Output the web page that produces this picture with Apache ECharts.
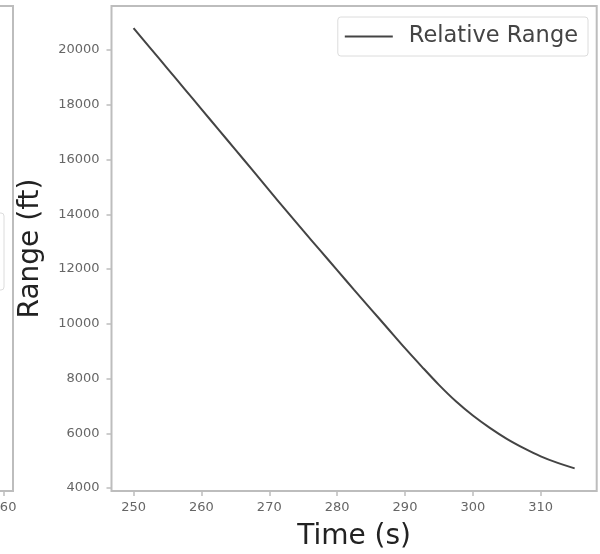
<!DOCTYPE html>
<html>
<head>
<meta charset="utf-8">
<script src="https://cdn.jsdelivr.net/npm/echarts@6/dist/echarts.min.js"></script>
<style>html,body{margin:0;padding:0;background:#fff}#c{width:600px;height:554px}</style>
</head>
<body>
<div id="c"></div>
<script>
// Data
const times = [250, 252.5, 255, 257.5, 260, 262.5, 265, 267.5, 270, 272.5, 275, 277.5, 280, 282.5, 285, 287.5, 290, 292.5, 295, 297.5, 300, 302.5, 305, 307.5, 310, 312.5, 315];
const ranges = [20800, 20060, 19320, 18580, 17840, 17100, 16360, 15620, 14870, 14130, 13400, 12680, 11960, 11240, 10530, 9820, 9110, 8430, 7770, 7170, 6650, 6200, 5800, 5460, 5160, 4920, 4720];
const xTicks = [250, 260, 270, 280, 290, 300, 310];
const yTicks = [4000, 6000, 8000, 10000, 12000, 14000, 16000, 18000, 20000];
const neighbourTicks = [260];
const seriesName = 'Relative Range';

const FONT = 'DejaVu Sans';
const plain = v => String(v);
const chart = echarts.init(document.getElementById('c'), null, {renderer: 'canvas'});
chart.setOption({
  animation: false,
  backgroundColor: '#fff',
  textStyle: {fontFamily: FONT},
  grid: [
    {left: 111.5, right: 3.3, top: 6, bottom: 63, show: true, borderColor: '#bdbdbd', borderWidth: 2, containLabel: false, outerBoundsMode: 'none'},
    {left: -300, width: 313, top: 6, bottom: 63, show: true, borderColor: '#bdbdbd', borderWidth: 2, containLabel: false, outerBoundsMode: 'none'}
  ],
  legend: {
    right: 12, top: 17,
    data: [{name: seriesName, icon: 'rect'}],
    orient: 'horizontal',
    itemWidth: 48, itemHeight: 2,
    padding: [8, 10, 8, 7],
    borderColor: '#dcdcdc', borderWidth: 1, borderRadius: 3,
    backgroundColor: '#fff',
    itemStyle: {color: '#444'},
    textStyle: {fontFamily: FONT, fontSize: 22.5, color: '#444', padding: [0, 0, 0, 11]}
  },
  xAxis: [
    {
      gridIndex: 0, type: 'value', min: 246.75, max: 318.25,
      name: 'Time (s)', nameLocation: 'middle', nameGap: 32,
      nameTextStyle: {fontFamily: FONT, fontSize: 28, color: '#222'},
      axisLine: {show: false},
      axisTick: {show: true, length: 5, inside: false, lineStyle: {color: '#bdbdbd', width: 1.5}, customValues: xTicks},
      axisLabel: {fontFamily: FONT, fontSize: 13, color: '#666', margin: 10, customValues: xTicks, formatter: plain},
      splitLine: {show: false}
    },
    {
      gridIndex: 1, type: 'value', min: 200, max: 261.776,
      axisLine: {show: false},
      axisTick: {show: true, length: 5, lineStyle: {color: '#bdbdbd', width: 1.5}, customValues: neighbourTicks},
      axisLabel: {fontFamily: FONT, fontSize: 13, color: '#666', margin: 10, customValues: neighbourTicks, formatter: plain},
      splitLine: {show: false}
    }
  ],
  yAxis: [
    {
      gridIndex: 0, type: 'value', min: 3895, max: 21605,
      name: 'Range (ft)', nameLocation: 'middle', nameGap: 67, nameRotate: 90,
      nameTextStyle: {fontFamily: FONT, fontSize: 28, color: '#222'},
      axisLine: {show: false},
      axisTick: {show: true, length: 5, lineStyle: {color: '#bdbdbd', width: 1.5}, customValues: yTicks},
      axisLabel: {fontFamily: FONT, fontSize: 13, color: '#666', margin: 12, customValues: yTicks, formatter: plain},
      splitLine: {show: false}
    },
    {
      gridIndex: 1, type: 'value', min: 0, max: 1,
      axisLine: {show: false}, axisTick: {show: false}, axisLabel: {show: false}, splitLine: {show: false}
    }
  ],
  graphic: [
    {type: 'rect', shape: {x: -200, y: 213, width: 204, height: 77, r: 3}, style: {fill: '#fff', stroke: '#dcdcdc', lineWidth: 1}, z: 100}
  ],
  series: [
    {
      name: seriesName, type: 'line', xAxisIndex: 0, yAxisIndex: 0,
      data: times.map((t, i) => [t, ranges[i]]),
      symbol: 'none', showSymbol: false, smooth: 0.3,
      lineStyle: {color: '#444', width: 2},
      itemStyle: {color: '#444'}
    }
  ]
});
</script>
</body>
</html>
